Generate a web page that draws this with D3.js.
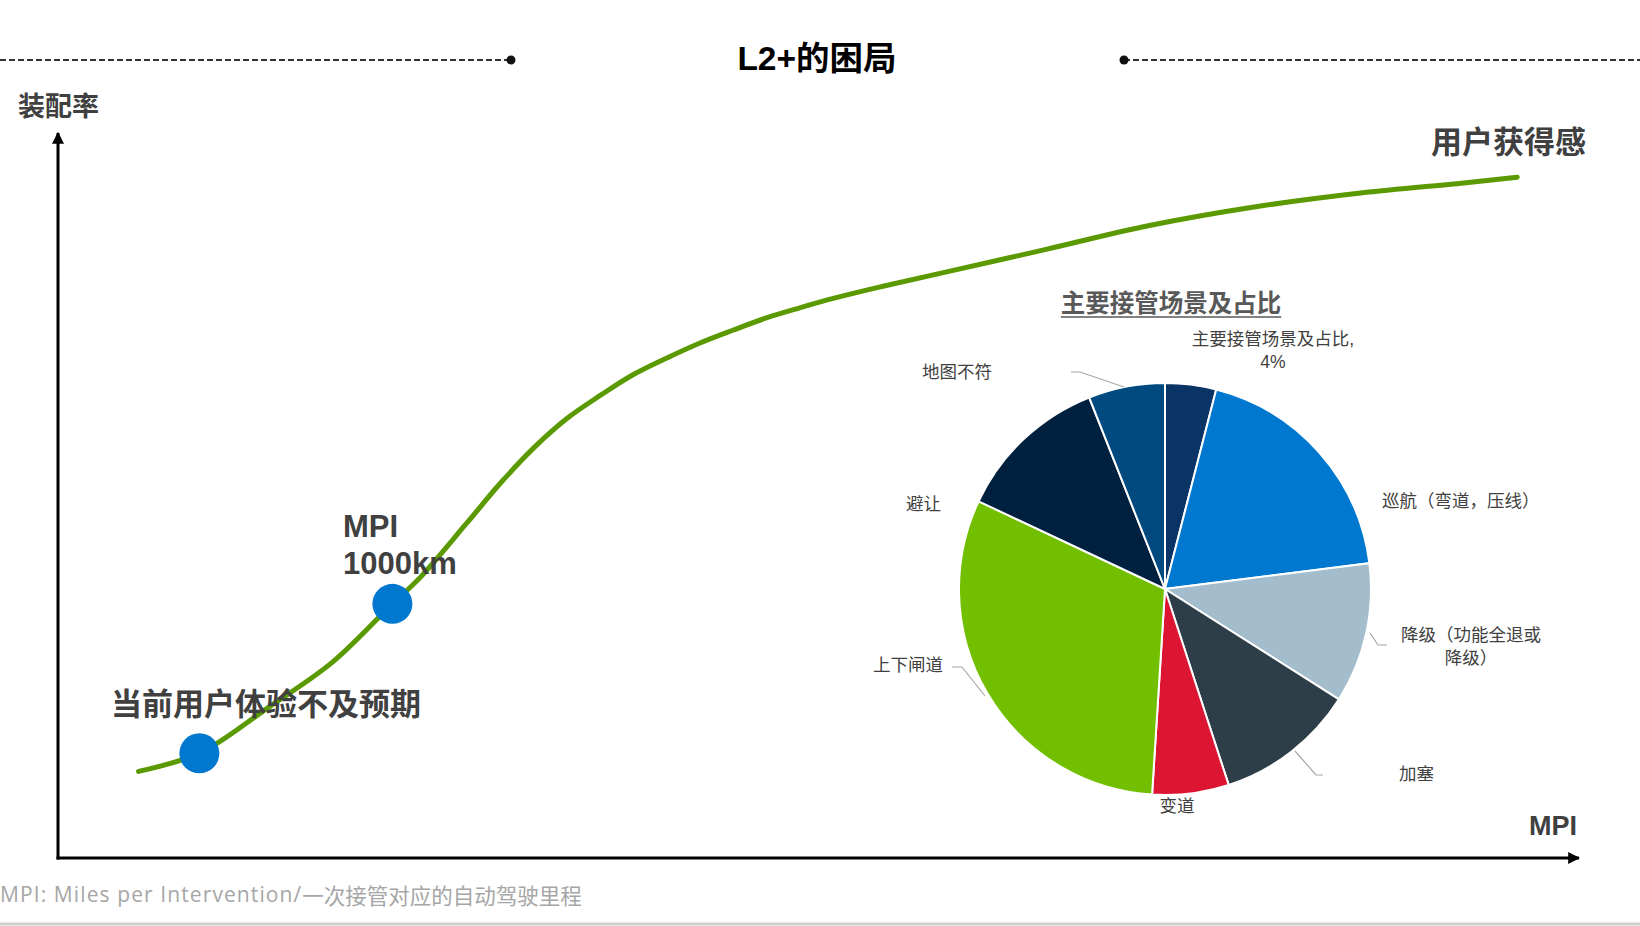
<!DOCTYPE html>
<html>
<head>
<meta charset="utf-8">
<script src="https://cdn.jsdelivr.net/npm/d3@7"></script>
<style>
  html, body { margin: 0; padding: 0; background: #fff; }
  svg { display: block; }
  text { font-family: "Liberation Sans", "Noto Sans CJK SC", sans-serif; }
</style>
</head>
<body>
<svg id="chart" width="1640" height="926"></svg>
<script>
// ---------- data ----------
const chartTitle = "L2+的困局";
const yAxisLabel = "装配率";
const xAxisLabel = "MPI";
const curveEndLabel = "用户获得感";
const footnoteLatin = "MPI: Miles per Intervention/";
const footnoteCJK = "一次接管对应的自动驾驶里程";

// adoption curve (x: MPI, y: 装配率), 0-100 relative units
const curveX = [5.3, 9.3, 13.8, 18.1, 22.0, 23.8, 26.9, 29.1, 31.3, 33.5, 35.7, 37.8, 40.1, 42.2, 44.4, 46.6, 48.8, 51.0, 54.1, 58.1, 65.0, 71.8, 78.8, 85.7, 92.5, 96.0];
const curveY = [12.0, 14.5, 20.8, 27.2, 35.2, 38.8, 46.4, 51.9, 56.8, 60.9, 64.1, 66.9, 69.3, 71.3, 73.1, 74.8, 76.2, 77.5, 79.1, 81.0, 84.3, 87.6, 90.2, 92.1, 93.5, 94.3];

// highlighted points on the curve
const markerX = [9.3, 22.0];
const markerY = [14.5, 35.2];
const markerLabels = [["当前用户体验不及预期"], ["MPI", "1000km"]];

// pie: main takeover scenarios and share (%)
const pieTitle = "主要接管场景及占比";
const pieCategories = ["主要接管场景及占比", "巡航（弯道，压线）", "降级（功能全退或降级）", "加塞", "变道", "上下闸道", "避让", "地图不符"];
const pieValues = [4, 19, 11, 11, 6, 31, 12, 6];
const pieColors = ["#0a3366", "#0078cf", "#a3bdcc", "#2e3e48", "#dc1532", "#72bf00", "#00203f", "#004a80"];

// ---------- drawing ----------
const svg = d3.select("#chart");
const W = 1640, H = 926;
const textGrey = "#404040";

const x = d3.scaleLinear().domain([0, 100]).range([58, 1578]);
const y = d3.scaleLinear().domain([0, 100]).range([858, 136]);

const defs = svg.append("defs");
defs.append("marker").attr("id", "arrow")
  .attr("viewBox", "0 0 10 10").attr("refX", 9).attr("refY", 5)
  .attr("markerWidth", 4).attr("markerHeight", 4).attr("orient", "auto")
  .append("path").attr("d", "M0,0 L10,5 L0,10 Z").attr("fill", "#000");

// title with dashed lines
svg.append("line").attr("x1", 0).attr("x2", 511).attr("y1", 60).attr("y2", 60)
  .attr("stroke", "#333").attr("stroke-width", 2).attr("stroke-dasharray", "6,3");
svg.append("line").attr("x1", 1124).attr("x2", W).attr("y1", 60).attr("y2", 60)
  .attr("stroke", "#333").attr("stroke-width", 2).attr("stroke-dasharray", "6,3");
svg.selectAll("circle.tdot").data([511, 1124]).join("circle").attr("class", "tdot")
  .attr("cx", d => d).attr("cy", 60).attr("r", 4.5).attr("fill", "#111");
svg.append("text").attr("x", 817).attr("y", 58).attr("text-anchor", "middle")
  .attr("dominant-baseline", "central").attr("font-size", 33.5).attr("font-weight", "bold")
  .attr("fill", "#000").text(chartTitle);

// axes
svg.append("line").attr("x1", x(0)).attr("y1", y(0) + 1.5).attr("x2", x(0)).attr("y2", 133)
  .attr("stroke", "#000").attr("stroke-width", 3).attr("marker-end", "url(#arrow)");
svg.append("line").attr("x1", x(0) - 1.5).attr("y1", y(0)).attr("x2", 1579).attr("y2", y(0))
  .attr("stroke", "#000").attr("stroke-width", 3).attr("marker-end", "url(#arrow)");

svg.append("text").attr("x", 18).attr("y", 107).attr("dominant-baseline", "central")
  .attr("font-size", 27).attr("font-weight", "bold").attr("fill", textGrey).text(yAxisLabel);
svg.append("text").attr("x", 1577).attr("y", 826).attr("text-anchor", "end")
  .attr("dominant-baseline", "central")
  .attr("font-size", 27).attr("font-weight", "bold").attr("fill", textGrey).text(xAxisLabel);

// curve
const curvePts = curveX.map((d, i) => [d, curveY[i]]);
const line = d3.line().x(d => x(d[0])).y(d => y(d[1])).curve(d3.curveCatmullRom.alpha(0.5));
svg.append("path").attr("d", line(curvePts)).attr("fill", "none")
  .attr("stroke", "#5a9a00").attr("stroke-width", 5).attr("stroke-linecap", "round");

svg.append("text").attr("x", 1586).attr("y", 142).attr("text-anchor", "end")
  .attr("dominant-baseline", "central").attr("font-size", 31).attr("font-weight", "bold")
  .attr("fill", textGrey).text(curveEndLabel);

// markers
svg.selectAll("circle.marker").data(markerX.map((d, i) => [d, markerY[i]])).join("circle")
  .attr("class", "marker").attr("cx", d => x(d[0])).attr("cy", d => y(d[1])).attr("r", 20)
  .attr("fill", "#0078cf");

svg.append("text").attr("x", 111).attr("y", 704).attr("dominant-baseline", "central")
  .attr("font-size", 31).attr("font-weight", "bold").attr("fill", textGrey).text(markerLabels[0][0]);
const ml = svg.append("text").attr("x", 343).attr("font-size", 31).attr("font-weight", "bold").attr("fill", textGrey);
markerLabels[1].forEach((t, i) => {
  ml.append("tspan").attr("x", 343).attr("y", 526 + i * 37).attr("dominant-baseline", "central").text(t);
});

// pie
const cx = 1165, cy = 589, R = 206;
const pie = d3.pie().sort(null).value(d => d)(pieValues);
const arc = d3.arc().innerRadius(0).outerRadius(R);
const pg = svg.append("g").attr("transform", `translate(${cx},${cy})`);
pg.selectAll("path").data(pie).join("path").attr("d", arc)
  .attr("fill", (d, i) => pieColors[i]).attr("stroke", "#fff").attr("stroke-width", 2);

const pt = svg.append("text").attr("x", 1171).attr("y", 303).attr("text-anchor", "middle")
  .attr("dominant-baseline", "central").attr("font-size", 24.5).attr("font-weight", "bold")
  .attr("fill", "#595959").text(pieTitle);
const bb = pt.node().getBBox();
svg.append("line").attr("x1", bb.x).attr("x2", bb.x + bb.width).attr("y1", 317).attr("y2", 317)
  .attr("stroke", "#595959").attr("stroke-width", 1.5);

const labelSpec = [
  { lines: [pieCategories[0] + ",", pieValues[0] + "%"], x: 1273, y: 339, anchor: "middle" },
  { lines: [pieCategories[1]], x: 1382, y: 501, anchor: "start" },
  { lines: ["降级（功能全退或", "降级）"], x: 1471, y: 635, anchor: "middle" },
  { lines: [pieCategories[3]], x: 1399, y: 774, anchor: "start" },
  { lines: [pieCategories[4]], x: 1177, y: 806, anchor: "middle" },
  { lines: [pieCategories[5]], x: 943, y: 665, anchor: "end" },
  { lines: [pieCategories[6]], x: 941, y: 504, anchor: "end" },
  { lines: [pieCategories[7]], x: 922, y: 372, anchor: "start" }
];
labelSpec.forEach(s => {
  const t = svg.append("text").attr("text-anchor", s.anchor).attr("font-size", 17.5).attr("fill", textGrey);
  s.lines.forEach((ln, i) => {
    t.append("tspan").attr("x", s.x).attr("y", s.y + i * 23).attr("dominant-baseline", "central").text(ln);
  });
});

const leaders = [
  { idx: 7, pts: [[1124, 387], [1080, 372], [1071, 372]] },
  { idx: 2, pts: [[1370, 633], [1378, 645], [1387, 645]] },
  { idx: 3, pts: [[1295, 751], [1316, 775], [1323, 775]] },
  { idx: 5, pts: [[985, 696], [962, 667], [952, 667]] }
];
leaders.forEach(l => {
  svg.append("path").attr("d", d3.line()(l.pts)).attr("fill", "none")
    .attr("stroke", "#a6a6a6").attr("stroke-width", 1.2);
});

// footnote and bottom rule
const fn = svg.append("text").attr("x", 0).attr("y", 894).attr("dominant-baseline", "central")
  .attr("fill", "#a6a6a6");
fn.append("tspan").attr("font-family", "'Open Sans', sans-serif").attr("font-size", 21)
  .attr("letter-spacing", 1.1).text(footnoteLatin);
fn.append("tspan").attr("font-family", "'Noto Sans CJK SC', sans-serif").attr("font-size", 21.5).text(footnoteCJK);
svg.append("line").attr("x1", 0).attr("x2", W).attr("y1", 924).attr("y2", 924)
  .attr("stroke", "#d0d0d0").attr("stroke-width", 3);
</script>
</body>
</html>
